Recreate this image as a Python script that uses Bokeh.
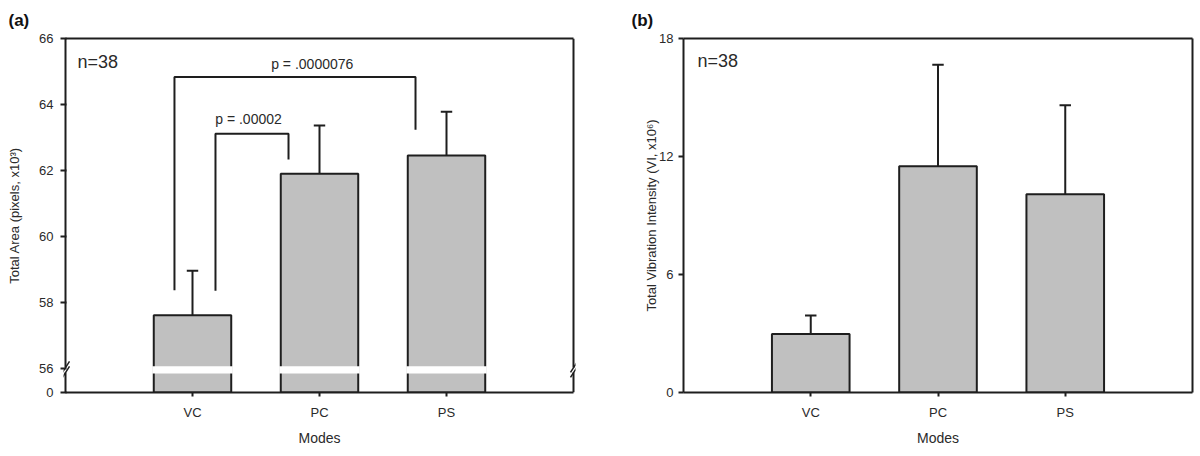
from bokeh.plotting import figure
from bokeh.models import (ColumnDataSource, Range1d, FixedTicker, LinearAxis,
                          Label, CustomJSTickFormatter)
from bokeh.layouts import row
from bokeh.embed import file_html
from bokeh.resources import INLINE

# ---------------- data ----------------
modes = ["VC", "PC", "PS"]
area_mean = [57.6, 61.9, 62.45]      # Total area (pixels, x10^3)
area_sd = [1.35, 1.46, 1.33]
vib_mean = [2.98, 11.5, 10.08]       # Total vibration intensity (VI, x10^6)
vib_sd = [0.94, 5.17, 4.52]
area_ticks = [0, 56, 58, 60, 62, 64, 66]
vib_ticks = [0, 6, 12, 18]
p_labels = ["p = .00002", "p = .0000076"]
n_label = "n=38"

FONT = "Liberation Sans"
INK = "#1e1e1e"
TXT = "#2a2a2a"
BAR = "#c0c0c0"
BREAK = 56.0
GAP = 0.74          # display height given to the 0..56 stretch (broken axis)


def brk(v):
    return v if v < BREAK else v - BREAK + GAP


xs = [i + 1 for i in range(len(modes))]
BW = 0.61
CAP = 0.045
H = 448


def style_axis(ax):
    ax.axis_line_color = INK
    ax.axis_line_width = 2
    ax.major_tick_line_color = INK
    ax.major_tick_line_width = 2
    ax.major_tick_in = 0
    ax.minor_tick_line_color = None
    ax.major_label_text_font = FONT
    ax.major_label_text_font_size = "13px"
    ax.major_label_text_color = TXT
    ax.axis_label_text_font = FONT
    ax.axis_label_text_font_size = "13px"
    ax.axis_label_text_font_style = "normal"
    ax.axis_label_text_color = TXT


def base_fig(width, xr, ylo, yhi, bl, br, bb, title, toff):
    p = figure(width=width, height=H, output_backend="svg", toolbar_location=None,
               x_range=Range1d(*xr), y_range=Range1d(ylo, yhi),
               min_border_left=bl, min_border_right=br, min_border_top=38,
               min_border_bottom=bb, title=title)
    p.title.align = "left"
    p.title.offset = toff
    p.title.text_font = FONT
    p.title.text_font_size = "17px"
    p.title.text_font_style = "bold"
    p.title.text_color = "#111111"
    p.title.standoff = 17
    p.xgrid.visible = False
    p.ygrid.visible = False
    p.outline_line_color = None
    xa = p.below[0]
    ya = p.left[0]
    style_axis(xa)
    style_axis(ya)
    xa.ticker = FixedTicker(ticks=xs)
    xa.major_label_overrides = {x: m for x, m in zip(xs, modes)}
    xa.axis_label = "Modes"
    xa.axis_label_text_font_size = "14px"
    xa.major_tick_out = 4
    xa.major_label_standoff = 8
    xa.axis_label_standoff = 7
    xa.bounds = (0, 4)
    top = LinearAxis(ticker=FixedTicker(ticks=[]), axis_line_color=INK, axis_line_width=2,
                     major_tick_line_color=None, minor_tick_line_color=None, bounds=(0, 4))
    p.add_layout(top, "above")
    return p, xa, ya


def bars(p, tops, errs):
    src = ColumnDataSource(dict(x=xs, top=tops, err=errs,
                                xl=[x - CAP for x in xs], xr=[x + CAP for x in xs]))
    p.segment(x0="x", y0="top", x1="x", y1="err", line_color=INK, line_width=2, source=src)
    p.segment(x0="xl", y0="err", x1="xr", y1="err", line_color=INK, line_width=2, source=src)
    p.vbar(x="x", top="top", bottom=0, width=BW, fill_color=BAR, line_color=INK,
           line_width=2, source=src)
    return src


def txt(p, x, y, text, size, align="left"):
    p.add_layout(Label(x=x, y=y, text=text, text_font=FONT, text_font_size=size,
                       text_color=TXT, text_align=align, text_baseline="middle"))


# ---------------- panel (a) ----------------
PXX = 1 / 127.0          # one pixel in x data units
D = 2 * PXX
ytop_a = brk(area_ticks[-1])
pa, xa_a, ya_a = base_fig(608, (-D, 4 + D), 0, ytop_a, 63, 33, 55, "(a)", -55)
PXY = ytop_a / 355.0     # one pixel in y data units
ya_a.ticker = FixedTicker(ticks=[brk(t) for t in area_ticks])
ya_a.formatter = CustomJSTickFormatter(
    args=dict(b=BREAK, g=GAP),
    code="return tick < g/2 ? '0' : String(Math.round(tick - g + b));")
ya_a.axis_line_color = None
ya_a.major_tick_out = 3
ya_a.major_tick_in = 3
ya_a.major_label_standoff = 7
ya_a.axis_label = "Total Area (pixels, x10\u00b3)"
ya_a.axis_label_standoff = 14

bars(pa, [brk(m) for m in area_mean], [brk(m + s) for m, s in zip(area_mean, area_sd)])

# white gap through the bars at the axis break
g0, g1 = 0.574, 0.795
gc = (g0 + g1) / 2
pa.quad(left=[x - BW / 2 - 0.012 for x in xs], right=[x + BW / 2 + 0.012 for x in xs],
        bottom=g0, top=g1, fill_color="white", line_color=None)

# left / right frame lines with axis-break marks
h = 2.5 * PXY
for xb in (0, 4):
    pa.segment(x0=[xb, xb], y0=[0, gc + h], x1=[xb, xb], y1=[gc - h, ytop_a],
               line_color=INK, line_width=2)
    pa.segment(x0=[xb - 3 * PXX, xb - 3 * PXX], y0=[gc - h - 5 * PXY, gc + h - 5 * PXY],
               x1=[xb + 4 * PXX, xb + 4 * PXX], y1=[gc - h + 6 * PXY, gc + h + 6 * PXY],
               line_color=INK, line_width=1.5)

# significance brackets
br_x = [[0.858, 0.858, 2.756, 2.756], [1.181, 1.181, 1.756, 1.756]]
br_y = [[58.36, 64.83, 64.83, 63.23], [58.35, 63.11, 63.11, 62.33]]
pa.multi_line(xs=br_x, ys=[[brk(v) for v in ys] for ys in br_y], line_color=INK, line_width=2)
txt(pa, 1.441, brk(63.55), p_labels[0], "14px", align="center")
txt(pa, 1.943, brk(65.24), p_labels[1], "14px", align="center")
txt(pa, 0.094, brk(65.3), n_label, "18px")

# ---------------- panel (b) ----------------
pb, xa_b, ya_b = base_fig(592, (0, 4), 0, vib_ticks[-1], 75, 8, 53, "(b)", -52)
ya_b.ticker = FixedTicker(ticks=vib_ticks)
ya_b.major_tick_out = 5
ya_b.major_label_standoff = 5
ya_b.axis_label = "Total Vibration Intensity (VI, x10\u2076)"
ya_b.axis_label_standoff = -3
right_b = LinearAxis(ticker=FixedTicker(ticks=[]), axis_line_color=INK, axis_line_width=2,
                     major_tick_line_color=None, minor_tick_line_color=None)
pb.add_layout(right_b, "right")

bars(pb, vib_mean, [m + s for m, s in zip(vib_mean, vib_sd)])
txt(pb, 0.11, 16.84, n_label, "18px")

layout = row(pa, pb)
open("out.html", "w").write(file_html(layout, INLINE))
